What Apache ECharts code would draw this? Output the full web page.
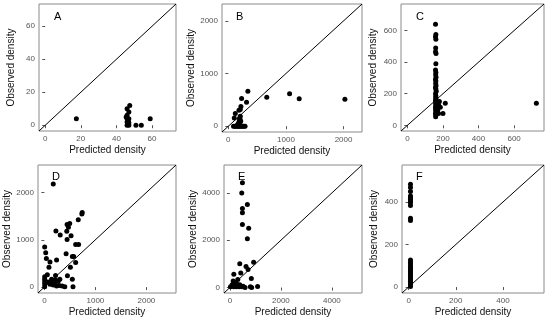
<!DOCTYPE html>
<html><head><meta charset="utf-8">
<script src="https://cdn.jsdelivr.net/npm/echarts@6/dist/echarts.min.js"></script>
<style>html,body{margin:0;padding:0;background:#fff}#c{width:550px;height:320px}</style>
</head><body><div id="c"></div>
<script>
var panelLabels = ['A','B','C','D','E','F'];
var aX = [17.5,46,47.5,47,46,45.5,46,47,46.5,46,47,46,47,46.5,51,54,59];
var aY = [4,10,12,8,6,5,4,4,3,2,1.5,0,0,0.5,0,0,4];
var bX = [667,1063,1230,2023,339,316,230,218,207,184,121,103,207,195,184,161,200,215,90,110,130,150,170,190,210,230,250,270,290,180,200,175,160];
var bY = [550,614,519,513,665,456,525,373,317,304,241,158,190,127,82,32,150,100,0,0,0,0,0,0,0,0,0,0,0,50,60,20,10];
var cX = [158,160,158,160,159,158,161,160,158,160,159,161,158,160,159,161,158,160,162,158,160,159,161,158,160,159,161,158,160,159,161,158,160,159,180,213,185,200,175,725,170,175];
var cY = [640,575,560,545,490,465,455,390,350,335,320,305,290,280,265,250,240,230,215,200,185,175,165,155,145,135,125,115,105,95,85,75,65,55,150,140,115,75,75,140,95,130];
var dX = [174,742,735,664,497,445,471,439,226,310,523,445,613,671,6,26,426,39,239,110,574,548,613,510,90,58,219,452,6,6,6,6,6,142,219,303,271,155,206,174,239,290,400,548,561,71,348,110];
var dY = [2179,1575,1546,1423,1344,1323,1265,1179,1186,1100,1085,1007,899,899,848,726,705,604,575,532,647,647,518,417,417,259,244,237,216,165,115,65,7,165,151,165,122,79,65,43,22,36,7,165,7,108,22,58];
var eX = [492,466,492,492,686,492,738,686,388,932,634,712,427,155,311,841,129,194,259,26,155,259,362,466,595,802,854,1087,90,220,388,518];
var eY = [4432,4000,3338,3166,3511,2662,2504,2058,1007,1065,892,763,619,561,345,388,273,216,173,29,29,29,29,29,0,29,0,43,115,72,115,58];
var fX = [8,8,8,8,8,8,8,8,8,8,8,8,8,8,8,8,8,8,8,8,8,8,8,8,8,8,8];
var fY = [484,468,449,428,421,413,405,397,384,324,313,127,117,108,98,90,83,75,67,59,51,43,35,27,19,11,3];
var limits = [[-3.5,73.5],[-110,2320],[-36,768],[-125,2580],[-230,5180],[-28,574]];
var ticks = [[0,20,40,60],[0,1000,2000],[0,200,400,600],[0,1000,2000],[0,2000,4000],[0,200,400]];
var xs = [aX,bX,cX,dX,eX,fX];
var ys = [aY,bY,cY,dY,eY,fY];

var grids = [
  {left:39,top:4,width:137,height:127},
  {left:222,top:4,width:140,height:128},
  {left:401,top:4,width:143,height:127},
  {left:38,top:165,width:138,height:128},
  {left:224,top:165,width:138,height:128},
  {left:402,top:165,width:142,height:128}
];
var letterPos = [[54,11],[236,11],[416,11],[52,171],[238,171],[416,171]];
var font = 'Liberation Sans, Arial, sans-serif';
var option = {animation:false, grid:[], xAxis:[], yAxis:[], series:[], title:[]};
grids.forEach(function(g,i){
  option.grid.push({left:g.left,top:g.top,width:g.width,height:g.height,show:true,borderColor:'#8a8a8a',borderWidth:1,backgroundColor:'#fff'});
  var common = function(){ return {
    type:'value', gridIndex:i, min:limits[i][0], max:limits[i][1],
    splitLine:{show:false}, axisLine:{show:false},
    axisTick:{show:true,length:3,lineStyle:{color:'#555'},customValues:ticks[i]},
    axisLabel:{color:'#555',fontSize:8,fontFamily:font,margin:4,customValues:ticks[i],formatter:function(v){return String(v);}},
    nameLocation:'middle', nameTextStyle:{color:'#111',fontSize:10,fontFamily:font}
  };};
  var xa = common(); xa.name='Predicted density'; xa.nameGap=14;
  var ya = common(); ya.name='Observed density'; ya.nameGap=23;
  option.xAxis.push(xa); option.yAxis.push(ya);
  var pts = xs[i].map(function(v,k){return [v, ys[i][k]];});
  option.series.push({type:'scatter',xAxisIndex:i,yAxisIndex:i,data:pts,symbolSize:5,itemStyle:{color:'#000',opacity:1},silent:true});
  option.series.push({type:'line',xAxisIndex:i,yAxisIndex:i,data:[[limits[i][0],limits[i][0]],[limits[i][1],limits[i][1]]],symbol:'none',lineStyle:{color:'#000',width:1},silent:true});
  option.title.push({text:panelLabels[i],left:letterPos[i][0],top:letterPos[i][1],padding:0,textStyle:{fontSize:11,fontWeight:'normal',color:'#000',fontFamily:font}});
});
var chart = echarts.init(document.getElementById('c'),null,{renderer:'canvas'});
chart.setOption(option);
</script></body></html>
